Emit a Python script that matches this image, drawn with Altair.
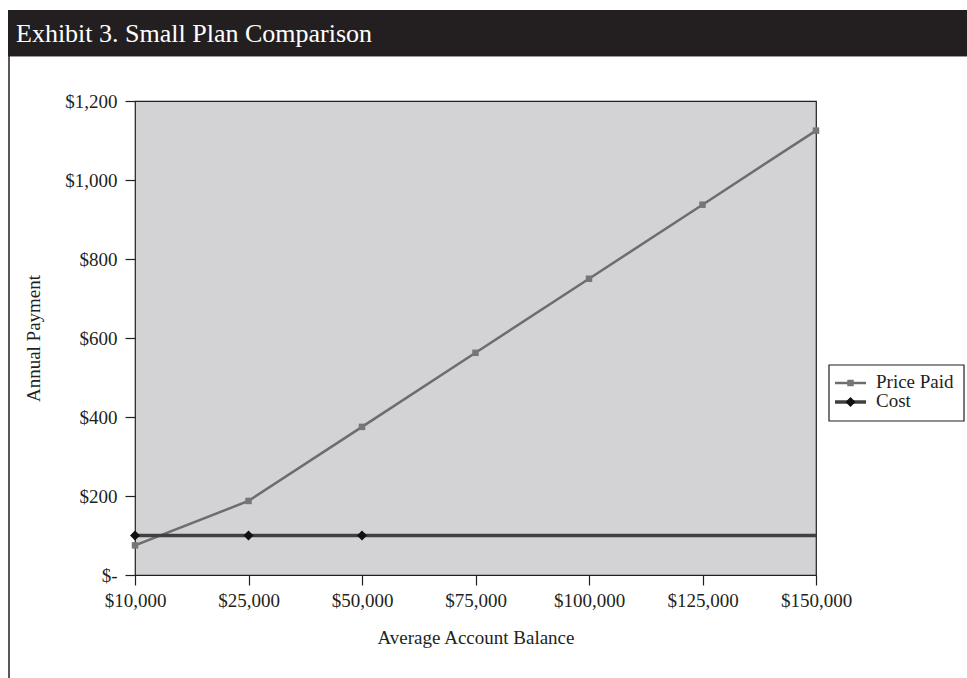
import altair as alt
import pandas as pd

# ---- data ----
balances = ["$10,000", "$25,000", "$50,000", "$75,000", "$100,000", "$125,000", "$150,000"]
price_paid = [75, 187.5, 375, 562.5, 750, 937.5, 1125]
cost = [100, 100, 100, 100, 100, 100, 100]
cost_marker = [True, True, True, False, False, False, False]
y_ticks = [0, 200, 400, 600, 800, 1000, 1200]
series_names = ["Price Paid", "Cost"]
title_text = "Exhibit 3. Small Plan Comparison"

df = pd.DataFrame({
    "balance": balances,
    "price": price_paid,
    "cost": cost,
    "marker": cost_marker,
})

FONT = "Liberation Serif"
W, H = 681, 474

x_enc = alt.X(
    "balance:N", sort=balances,
    scale=alt.Scale(type="point", padding=0),
    axis=alt.Axis(title="Average Account Balance", labelAngle=0, labelPadding=6,
                  titleY=62, titleBaseline="middle"),
)
y_scale = alt.Scale(domain=[0, 1200], nice=False, zero=True)
y_axis = alt.Axis(
    title="Annual Payment", values=y_ticks, labelPadding=8,
    labelExpr="datum.value == 0 ? '$-' : '$' + format(datum.value, ',')",
    titleAngle=-90, titleX=-102, titleY=H / 2, titleAlign="center", titleBaseline="middle",
)

base = alt.Chart(df)

price_line = base.mark_line(color="#6d6d6d", strokeWidth=2.5).encode(
    x=x_enc, y=alt.Y("price:Q", scale=y_scale, axis=y_axis)
)
price_pts = base.mark_point(shape="square", filled=True, color="#767676", size=42, opacity=1).encode(
    x=x_enc, y=alt.Y("price:Q", scale=y_scale, axis=y_axis)
)
cost_line = base.mark_line(color="#404040", strokeWidth=3.5).encode(
    x=x_enc, y=alt.Y("cost:Q", scale=y_scale, axis=y_axis)
)
cost_pts = base.transform_filter("datum.marker").mark_point(
    shape="diamond", filled=True, color="#111111", size=100, opacity=1
).encode(x=x_enc, y=alt.Y("cost:Q", scale=y_scale, axis=y_axis))

# ---- decorations: title bar and frame ----
one = pd.DataFrame({"t": [title_text]})
title_bar = alt.Chart(one).mark_rect(color="#231f20").encode(
    x=alt.value(-127), x2=alt.value(832), y=alt.value(-91), y2=alt.value(-45)
)
title_line = alt.Chart(one).mark_rule(color="#9a9a9a", strokeWidth=1).encode(
    x=alt.value(-127), x2=alt.value(832), y=alt.value(-44.5)
)
title_txt = alt.Chart(one).mark_text(
    align="left", baseline="middle", font=FONT, fontSize=26, fontWeight="normal", color="white"
).encode(x=alt.value(-119), y=alt.value(-67), text="t:N")
left_border = alt.Chart(one).mark_rule(color="#231f20", strokeWidth=1.5).encode(
    x=alt.value(-126), y=alt.value(-45), y2=alt.value(577)
)

# ---- legend ----
leg_df = pd.DataFrame({"name": series_names})
leg_box = alt.Chart(one).mark_rect(fill="white", stroke="#231f20", strokeWidth=1.2).encode(
    x=alt.value(694), x2=alt.value(829), y=alt.value(264), y2=alt.value(320)
)
leg_price_line = alt.Chart(one).mark_rule(color="#6d6d6d", strokeWidth=2.5).encode(
    x=alt.value(700), x2=alt.value(731), y=alt.value(282)
)
leg_price_pt = alt.Chart(one).mark_point(shape="square", filled=True, color="#767676", size=42, opacity=1).encode(
    x=alt.value(715.5), y=alt.value(282)
)
leg_cost_line = alt.Chart(one).mark_rule(color="#404040", strokeWidth=3.5).encode(
    x=alt.value(700), x2=alt.value(731), y=alt.value(301)
)
leg_cost_pt = alt.Chart(one).mark_point(shape="diamond", filled=True, color="#111111", size=100, opacity=1).encode(
    x=alt.value(715.5), y=alt.value(301)
)
leg_price_txt = alt.Chart(leg_df).transform_filter(alt.datum.name == "Price Paid").mark_text(
    align="left", baseline="middle", font=FONT, fontSize=19, color="#231f20"
).encode(x=alt.value(741), y=alt.value(281), text="name:N")
leg_cost_txt = alt.Chart(leg_df).transform_filter(alt.datum.name == "Cost").mark_text(
    align="left", baseline="middle", font=FONT, fontSize=19, color="#231f20"
).encode(x=alt.value(741), y=alt.value(300), text="name:N")

chart = alt.layer(
    price_line, price_pts, cost_line, cost_pts,
    title_bar, title_line, title_txt, left_border,
    leg_box, leg_price_line, leg_price_pt, leg_cost_line, leg_cost_pt,
    leg_price_txt, leg_cost_txt,
).properties(
    width=W, height=H,
    autosize=alt.AutoSizeParams(type="none"),
    padding={"left": 135, "top": 101, "right": 151, "bottom": 103},
    background="white",
).configure_view(
    fill="#d3d3d5", stroke="#231f20", strokeWidth=1.2
).configure_axis(
    domain=False, grid=False, tickColor="#231f20", tickSize=10, tickWidth=1.2,
    labelFont=FONT, labelFontSize=19, labelColor="#231f20",
    titleFont=FONT, titleFontSize=19, titleFontWeight="normal", titleColor="#231f20",
)

chart.save("out.html", embed_options={"renderer": "svg", "actions": False})
